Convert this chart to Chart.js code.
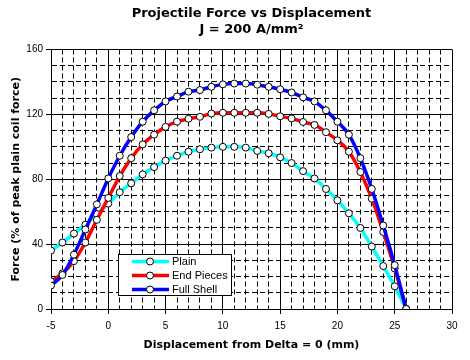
<!DOCTYPE html>
<html>
<head>
<meta charset="utf-8">
<script src="https://cdn.jsdelivr.net/npm/chart.js@4.4.0/dist/chart.umd.min.js"></script>
<style>
  html, body { margin: 0; padding: 0; background: #fff; }
</style>
</head>
<body>
<canvas id="chart1" width="470" height="360"></canvas>
<script>
// displacement (mm) and force (% of peak plain coil force)
const displacement = [-5, -4, -3, -2, -1, 0, 1, 2, 3, 4, 5, 6, 7, 8, 9, 10,
  11, 12, 13, 14, 15, 16, 17, 18, 19, 20, 21, 22, 23, 24, 25, 26];
const plain = [36, 41, 46.5, 52, 58.5, 65, 72, 77.5, 83, 87.5, 91.5, 94.5, 97, 98.5, 99.5, 100,
  100, 99.5, 97.5, 96, 93.5, 90, 85, 80.5, 74, 67, 59, 50, 38.5, 26.5, 14, 0];
const endPieces = [17, 22, 29.5, 41, 55, 68.5, 82, 93, 101.5, 107.5, 112.3, 115.5, 117.3, 118.5, 120.5, 121,
  121, 121, 121, 120.3, 118.8, 117.5, 115.3, 113.5, 109, 104, 97, 84.5, 68, 47.5, 25, 0];
const fullShell = [14.5, 21, 33.5, 49, 64.5, 80.5, 94.5, 106, 115.5, 122.5, 128, 131, 134, 135, 137, 138.5,
  139, 139, 138.3, 137, 135.5, 133.5, 130.5, 128, 122.5, 115.5, 107.5, 93, 74, 51.5, 27, 0];
const seriesNames = ["Plain", "End Pieces", "Full Shell"];
const xLabels = [-5, 0, 5, 10, 15, 20, 25, 30];
const yLabels = [0, 40, 80, 120, 160];

const toPoints = (ys) => displacement.map((x, i) => ({ x: x, y: ys[i] }));

const isMajorX = (v) => xLabels.includes(v);
const isMajorY = (v) => yLabels.includes(v);

const tickFont = { family: "'Liberation Sans', Arial, sans-serif", size: 10 };
const axisTitleFont = { family: "'DejaVu Sans', Verdana, sans-serif", size: 11, weight: 'bold' };

// legend drawn inside the plot, like the original
const insideLegend = {
  id: 'insideLegend',
  afterDatasetsDraw(chart) {
    const ctx = chart.ctx;
    ctx.save();
    ctx.fillStyle = '#fff';
    ctx.strokeStyle = '#000';
    ctx.lineWidth = 1;
    ctx.fillRect(118.5, 254.5, 113, 41);
    ctx.strokeRect(118.5, 254.5, 113, 41);
    chart.data.datasets.forEach((ds, i) => {
      const y = 261.5 + i * 14;
      ctx.strokeStyle = ds.borderColor;
      ctx.lineWidth = 3.5;
      ctx.beginPath();
      ctx.moveTo(132, y);
      ctx.lineTo(169, y);
      ctx.stroke();
      ctx.beginPath();
      ctx.arc(150, y, 3.5, 0, Math.PI * 2);
      ctx.fillStyle = '#fff';
      ctx.fill();
      ctx.lineWidth = 1;
      ctx.strokeStyle = '#000';
      ctx.stroke();
      ctx.fillStyle = '#000';
      ctx.font = "11px 'Liberation Sans Narrow', 'Liberation Sans', Arial, sans-serif";
      ctx.textBaseline = 'middle';
      ctx.fillText(ds.label, 172, y + 0.5);
    });
    ctx.restore();
  }
};

const makeSeries = (name, ys, color, order) => ({
  label: name,
  data: toPoints(ys),
  borderColor: color,
  backgroundColor: color,
  pointBackgroundColor: '#fff',
  pointBorderColor: '#000',
  pointBorderWidth: 1,
  pointRadius: 3.5,
  order: order
});

const ctx1 = document.getElementById("chart1").getContext('2d');
const chart1 = new Chart(ctx1, {
  type: 'line',
  data: {
    datasets: [
      makeSeries(seriesNames[0], plain, '#00ffff', 3),
      makeSeries(seriesNames[1], endPieces, '#ff0000', 2),
      makeSeries(seriesNames[2], fullShell, '#0000ff', 1)
    ]
  },
  options: {
    responsive: false,
    animation: false,
    devicePixelRatio: 1,
    layout: { padding: { left: 0, right: 18, top: 0, bottom: 0 } },
    elements: {
      line: { borderWidth: 3.5, cubicInterpolationMode: 'monotone', fill: false }
    },
    plugins: {
      legend: { display: false },
      tooltip: { enabled: false },
      title: {
        display: true,
        fullSize: false,
        text: ['Projectile Force vs Displacement', 'J = 200 A/mm²'],
        color: '#000',
        font: { family: "'DejaVu Sans', Verdana, sans-serif", size: 13, weight: 'bold', lineHeight: 1.25 },
        padding: { top: 5, bottom: 12 }
      }
    },
    scales: {
      x: {
        type: 'linear',
        min: -5,
        max: 30,
        afterFit: (scale) => { scale.height = 51; },
        ticks: {
          stepSize: 1,
          autoSkip: false,
          maxRotation: 0,
          color: '#000',
          font: tickFont,
          padding: 6,
          callback: (v) => isMajorX(v) ? v : ''
        },
        grid: {
          color: '#000',
          lineWidth: 1,
          tickLength: 5,
          tickColor: (c) => (c.tick && isMajorX(c.tick.value)) ? '#000' : 'rgba(0,0,0,0)'
        },
        border: {
          display: true,
          color: '#000',
          dash: (c) => (c.tick && !isMajorX(c.tick.value)) ? [5, 3] : []
        },
        title: {
          display: true,
          text: 'Displacement from Delta = 0 (mm)',
          color: '#000',
          font: axisTitleFont,
          padding: { top: 0, bottom: 8 }
        }
      },
      y: {
        min: 0,
        max: 160,
        afterFit: (scale) => { scale.width = 51; },
        ticks: {
          stepSize: 10,
          autoSkip: false,
          color: '#000',
          font: tickFont,
          padding: 3,
          callback: (v) => isMajorY(v) ? v : ''
        },
        grid: {
          color: '#000',
          lineWidth: 1,
          tickLength: 5,
          tickColor: (c) => (c.tick && isMajorY(c.tick.value)) ? '#000' : 'rgba(0,0,0,0)'
        },
        border: {
          display: true,
          color: '#000',
          dash: (c) => (c.tick && !isMajorY(c.tick.value)) ? [5, 3] : []
        },
        title: {
          display: true,
          text: 'Force (% of peak plain coil force)',
          color: '#000',
          font: axisTitleFont,
          padding: { top: 10, bottom: 0 }
        }
      }
    }
  },
  plugins: [insideLegend]
});
</script>
</body>
</html>
